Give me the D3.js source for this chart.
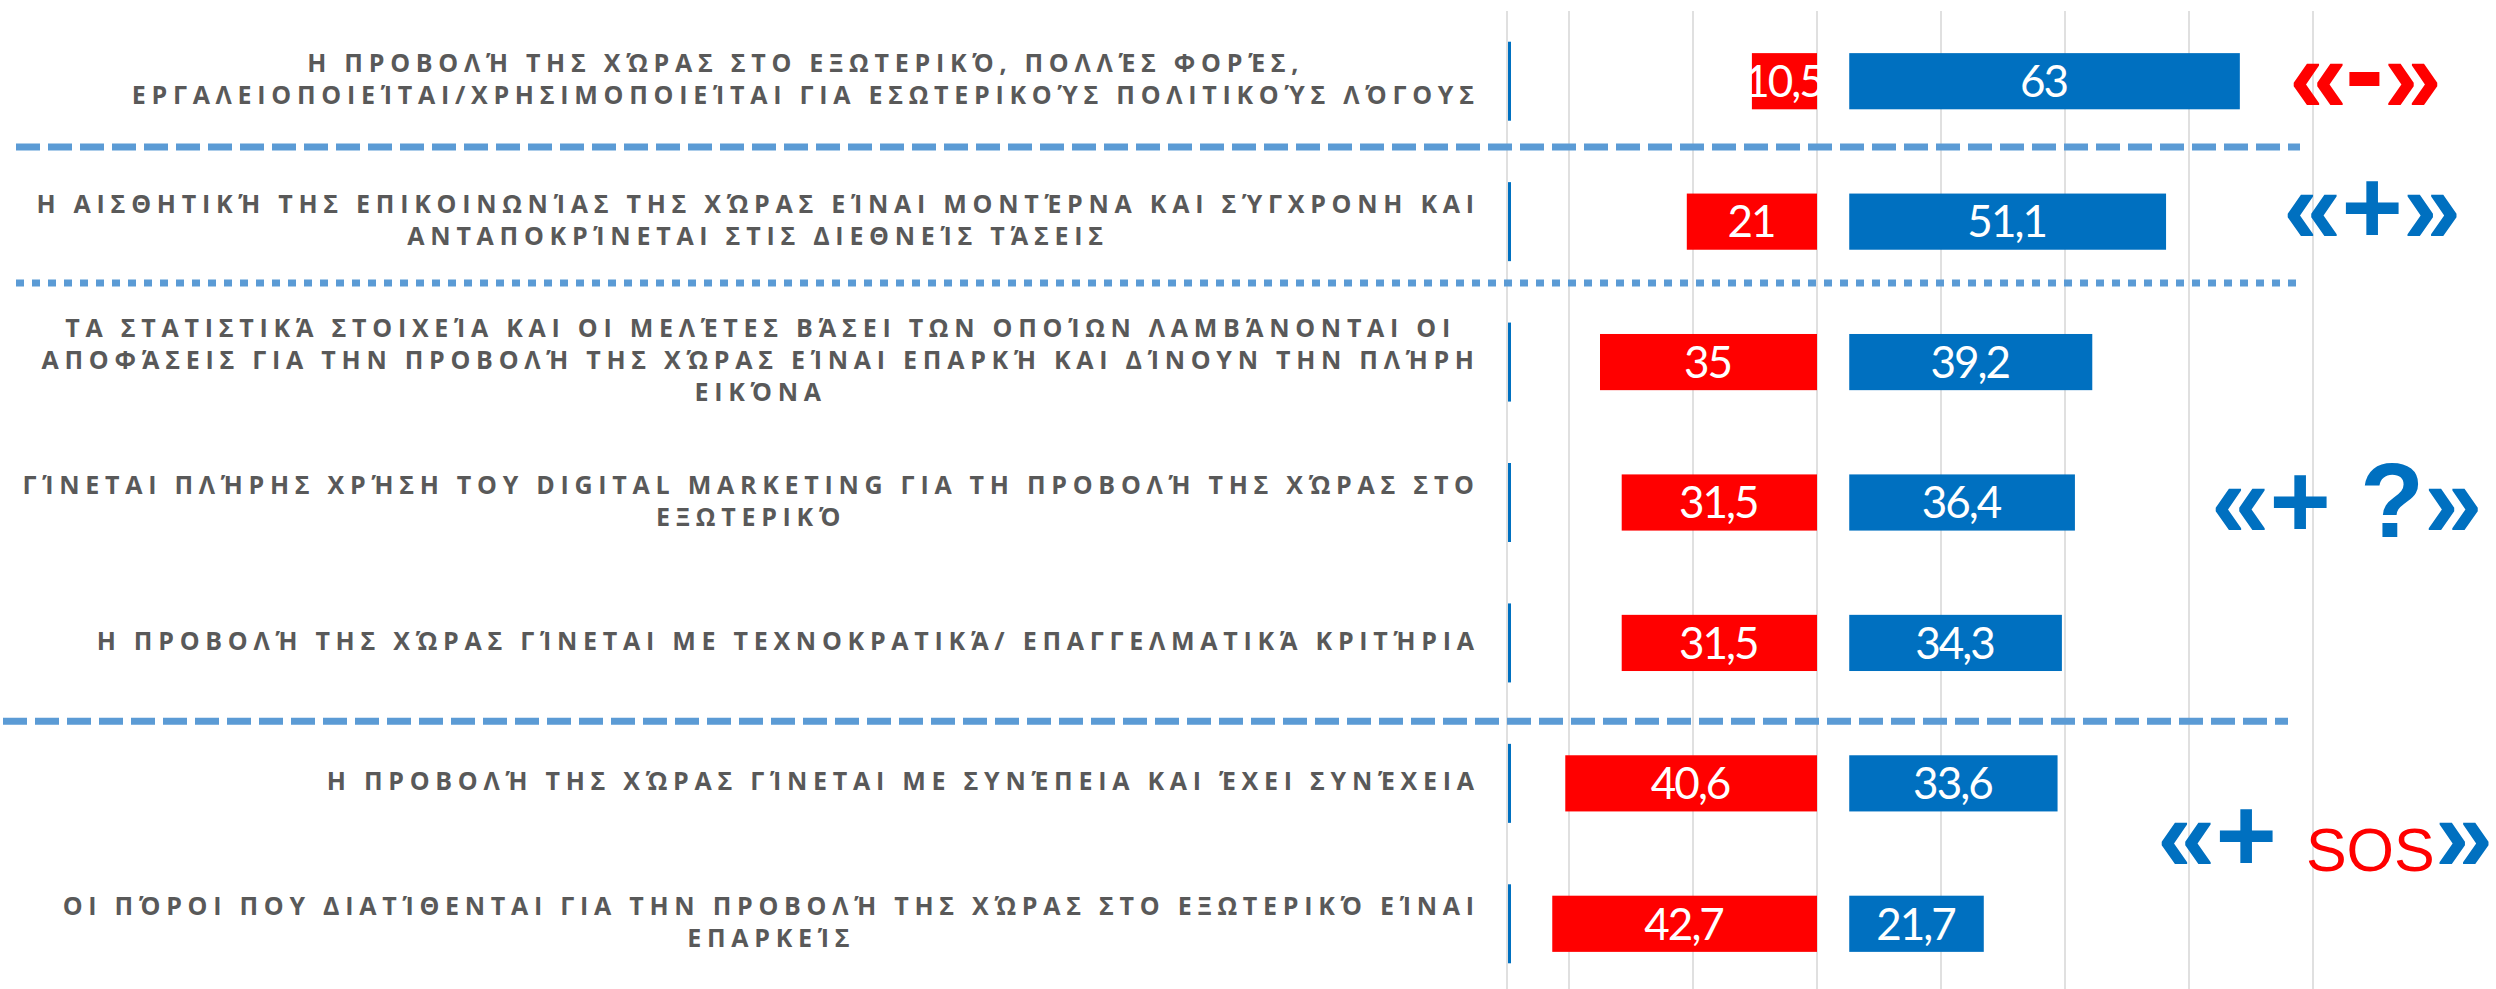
<!DOCTYPE html>
<html><head><meta charset="utf-8">
<script src="https://cdn.jsdelivr.net/npm/d3@7"></script>
<style>html,body{margin:0;padding:0;background:#fff;overflow:hidden}</style>
</head><body><svg id="c" width="2496" height="989"></svg>
<script>
// ---------------- data ----------------
const categories = [
  ["Η ΠΡΟΒΟΛΉ ΤΗΣ ΧΏΡΑΣ ΣΤΟ ΕΞΩΤΕΡΙΚΌ, ΠΟΛΛΈΣ ΦΟΡΈΣ,", "ΕΡΓΑΛΕΙΟΠΟΙΕΊΤΑΙ/ΧΡΗΣΙΜΟΠΟΙΕΊΤΑΙ ΓΙΑ ΕΣΩΤΕΡΙΚΟΎΣ ΠΟΛΙΤΙΚΟΎΣ ΛΌΓΟΥΣ"],
  ["Η ΑΙΣΘΗΤΙΚΉ ΤΗΣ ΕΠΙΚΟΙΝΩΝΊΑΣ ΤΗΣ ΧΏΡΑΣ ΕΊΝΑΙ ΜΟΝΤΈΡΝΑ ΚΑΙ ΣΎΓΧΡΟΝΗ ΚΑΙ", "ΑΝΤΑΠΟΚΡΊΝΕΤΑΙ ΣΤΙΣ ΔΙΕΘΝΕΊΣ ΤΆΣΕΙΣ"],
  ["ΤΑ ΣΤΑΤΙΣΤΙΚΆ ΣΤΟΙΧΕΊΑ ΚΑΙ ΟΙ ΜΕΛΈΤΕΣ ΒΆΣΕΙ ΤΩΝ ΟΠΟΊΩΝ ΛΑΜΒΆΝΟΝΤΑΙ ΟΙ", "ΑΠΟΦΆΣΕΙΣ ΓΙΑ ΤΗΝ ΠΡΟΒΟΛΉ ΤΗΣ ΧΏΡΑΣ ΕΊΝΑΙ ΕΠΑΡΚΉ ΚΑΙ ΔΊΝΟΥΝ ΤΗΝ ΠΛΉΡΗ", "ΕΙΚΌΝΑ"],
  ["ΓΊΝΕΤΑΙ ΠΛΉΡΗΣ ΧΡΉΣΗ ΤΟΥ DIGITAL MARKETING ΓΙΑ ΤΗ ΠΡΟΒΟΛΉ ΤΗΣ ΧΏΡΑΣ ΣΤΟ", "ΕΞΩΤΕΡΙΚΌ"],
  ["Η ΠΡΟΒΟΛΉ ΤΗΣ ΧΏΡΑΣ ΓΊΝΕΤΑΙ ΜΕ ΤΕΧΝΟΚΡΑΤΙΚΆ/ ΕΠΑΓΓΕΛΜΑΤΙΚΆ ΚΡΙΤΉΡΙΑ"],
  ["Η ΠΡΟΒΟΛΉ ΤΗΣ ΧΏΡΑΣ ΓΊΝΕΤΑΙ ΜΕ ΣΥΝΈΠΕΙΑ ΚΑΙ ΈΧΕΙ ΣΥΝΈΧΕΙΑ"],
  ["ΟΙ ΠΌΡΟΙ ΠΟΥ ΔΙΑΤΊΘΕΝΤΑΙ ΓΙΑ ΤΗΝ ΠΡΟΒΟΛΉ ΤΗΣ ΧΏΡΑΣ ΣΤΟ ΕΞΩΤΕΡΙΚΌ ΕΊΝΑΙ", "ΕΠΑΡΚΕΊΣ"]
];
const negativeValues = [10.5, 21, 35, 31.5, 31.5, 40.6, 42.7];
const positiveValues = [63, 51.1, 39.2, 36.4, 34.3, 33.6, 21.7];
const gridTicks = [-40, -20, 0, 20, 40, 60, 80];
const annotationParts = [
  [["«", "red", "b"], ["-", "red", "bar"], ["»", "red", "b"]],
  [["«", "blue", "b"], ["+", "blue", "b"], ["»", "blue", "b"]],
  [["«", "blue", "b"], ["+ ?", "blue", "b"], ["»", "blue", "b"]],
  [["«", "blue", "b"], ["+ ", "blue", "b"], ["SOS", "red", "s"], ["»", "blue", "b"]]
];

// ---------------- layout ----------------
const W = 2496, H = 989;
const RED = "#ff0000", BLUE = "#0070c0", SEP = "#5b9bd5", GRID = "#d9d9d9";
const colorOf = {red: RED, blue: BLUE};
const gap = 5.2;
const svg = d3.select("#c");
svg.append("rect").attr("width", W).attr("height", H).attr("fill", "#fff");

const x = d3.scaleLinear().domain([-50, 80]).range([1507, 2313]);
const y = d3.scaleBand().domain(d3.range(categories.length)).range([11, 994]).paddingInner(0.6).paddingOuter(0.3);
const cy = i => y(i) + y.bandwidth() / 2;

// gridlines
const g = svg.append("g");
g.selectAll("line.grid").data(gridTicks).join("line")
  .attr("x1", d => x(d)).attr("x2", d => x(d)).attr("y1", 11).attr("y2", H)
  .attr("stroke", GRID).attr("stroke-width", 1.6);
g.append("line")
  .attr("x1", x(x.domain()[0])).attr("x2", x(x.domain()[0])).attr("y1", 11).attr("y2", H)
  .attr("stroke", GRID).attr("stroke-width", 1.6);

// blue category-axis segments
svg.append("g").selectAll("rect").data(categories).join("rect")
  .attr("x", x(x.domain()[0]) + 1).attr("width", 3)
  .attr("y", (d, i) => cy(i) - 39.5).attr("height", 79)
  .attr("fill", BLUE);

// separators (position in band steps)
const separators = [
  {f: 0.969, x1: 16, x2: 2300, dash: "24,8"},
  {f: 1.937, x1: 16, x2: 2296, dash: "8,8"},
  {f: 5.057, x1: 3, x2: 2288, dash: "24,8"}
];
svg.append("g").selectAll("line").data(separators).join("line")
  .attr("x1", d => d.x1).attr("x2", d => d.x2)
  .attr("y1", d => y.range()[0] + y.step() * d.f).attr("y2", d => y.range()[0] + y.step() * d.f)
  .attr("stroke", SEP).attr("stroke-width", 7).attr("stroke-dasharray", d => d.dash);

// bars
const bars = svg.append("g");
bars.selectAll("rect.neg").data(negativeValues).join("rect")
  .attr("x", d => x(-d)).attr("width", d => x(0) - x(-d))
  .attr("y", (d, i) => y(i)).attr("height", y.bandwidth()).attr("fill", RED);
bars.selectAll("rect.pos").data(positiveValues).join("rect")
  .attr("x", x(gap)).attr("width", d => x(gap + d) - x(gap))
  .attr("y", (d, i) => y(i)).attr("height", y.bandwidth()).attr("fill", BLUE);

const fmt = v => String(v).replace(".", ",");
const lblFont = "Lato, Carlito, 'Open Sans', sans-serif";
function valueLabels(sel, xc) {
  sel.attr("x", xc).attr("y", (d, i) => cy(i)).attr("dy", "0.36em")
    .attr("text-anchor", "middle").attr("fill", "#fff")
    .style("font-family", lblFont).style("font-size", "44px")
    .style("letter-spacing", "-2px").text(fmt);
}
valueLabels(bars.selectAll("text.neg").data(negativeValues).join("text"), d => (x(-d) + x(0)) / 2 - 1);
valueLabels(bars.selectAll("text.pos").data(positiveValues).join("text"), d => (x(gap) + x(gap + d)) / 2 - 1);

// category labels
const catFont = "'Open Sans', 'Noto Sans', sans-serif";
const catSize = 25, lineH = 32, labelRight = 1474, refWidth = 1417;
const probe = svg.append("text").style("font-family", catFont).style("font-size", catSize + "px")
  .style("font-weight", 700).text(categories[6][0]);
const w0 = probe.node().getComputedTextLength();
const ls = (refWidth - w0) / categories[6][0].length;
probe.remove();

const labG = svg.append("g");
categories.forEach((lines, i) => {
  const tg = labG.append("g");
  const texts = lines.map(l => tg.append("text").style("font-family", catFont)
    .style("font-size", catSize + "px").style("font-weight", 700)
    .style("letter-spacing", ls + "px").attr("fill", "#595959").text(l));
  const maxW = d3.max(texts, t => t.node().getComputedTextLength()) - ls;
  const cx = labelRight - maxW / 2;
  const n = lines.length;
  texts.forEach((t, k) => {
    t.attr("text-anchor", "middle").attr("x", cx + ls / 2)
      .attr("y", cy(i) - 2 + (k - (n - 1) / 2) * lineH).attr("dy", "0.36em");
  });
});

// annotations
const annLayout = [
  {x: 2289, base: 112},
  {x: 2283, base: 243},
  {x: 2211, base: 537},
  {x: 2157, base: 871}
];
const annFont = "'Liberation Sans', Arial, sans-serif";
annotationParts.forEach((parts, k) => {
  const a = annLayout[k];
  let cur = a.x;
  const ag = svg.append("g");
  let t = null;
  parts.forEach(p => {
    if (p[2] === "bar") {
      // bold hyphen drawn as a solid block, like the reference
      ag.append("rect").attr("x", cur + 2).attr("y", a.base - 40)
        .attr("width", 30).attr("height", 14).attr("fill", colorOf[p[1]]);
      cur += 2 + 30 + 4;
      t = null;
      return;
    }
    if (!t) t = ag.append("text").attr("x", cur).attr("y", a.base).style("font-family", annFont);
    const ts = t.append("tspan").text(p[0]).attr("fill", colorOf[p[1]])
      .style("font-weight", p[2] === "b" ? 700 : 400)
      .style("font-size", p[2] === "b" ? "105px" : "61px");
    cur = a.x + t.node().getComputedTextLength() + (t.attr("x") - a.x);
  });
});
</script></body></html>
